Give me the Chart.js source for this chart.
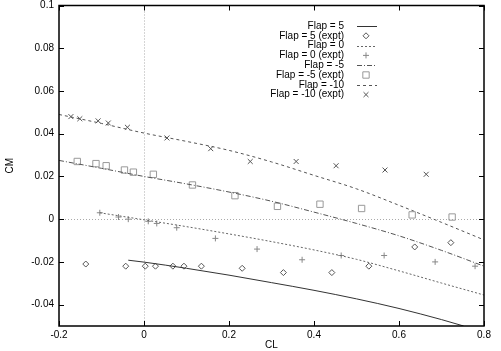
<!DOCTYPE html>
<html>
<head>
<meta charset="utf-8">
<script src="https://cdn.jsdelivr.net/npm/chart.js@4/dist/chart.umd.min.js"></script>
<style>
  html, body { margin: 0; padding: 0; background: #fff; }
  canvas { display: block; }
</style>
</head>
<body>
<canvas id="graficoCm" width="501" height="351"></canvas>
<script>
// tick labels
const xTicks = [-0.2, 0, 0.2, 0.4, 0.6, 0.8];
const yTicks = [-0.04, -0.02, 0, 0.02, 0.04, 0.06, 0.08, 0.1];

// theory curves
const curveCl = [-0.2, -0.1, 0, 0.1, 0.2, 0.3, 0.4, 0.5, 0.6, 0.7, 0.8];
const flapM10Theory = [0.049, 0.0448, 0.0403, 0.0364, 0.0322, 0.0268, 0.0205, 0.0142, 0.0065, -0.0015, -0.0097];
const flapM5Theory = [0.0275, 0.0238, 0.020, 0.0165, 0.0127, 0.0084, 0.0033, -0.002, -0.0078, -0.0146, -0.022];
const flap0TheoryCl = [-0.104, 0, 0.1, 0.2, 0.3, 0.4, 0.5, 0.6, 0.7, 0.8];
const flap0Theory = [0.003, -0.0003, -0.0035, -0.0069, -0.0105, -0.0144, -0.0188, -0.0242, -0.0299, -0.0355];
const flap5TheoryCl = [-0.037, 0, 0.1, 0.2, 0.3, 0.4, 0.5, 0.6, 0.7, 0.752];
const flap5Theory = [-0.0192, -0.0201, -0.023, -0.0262, -0.0297, -0.0333, -0.0373, -0.0418, -0.047, -0.050];

// experimental points
const flap5Cl = [-0.137, -0.043, 0.003, 0.027, 0.068, 0.094, 0.135, 0.231, 0.328, 0.442, 0.529, 0.637, 0.722];
const flap5Cm = [-0.021, -0.022, -0.022, -0.022, -0.022, -0.022, -0.022, -0.023, -0.025, -0.025, -0.022, -0.013, -0.011];
const flap0Cl = [-0.104, -0.060, -0.037, 0.010, 0.030, 0.077, 0.168, 0.266, 0.372, 0.464, 0.565, 0.685, 0.779];
const flap0Cm = [0.003, 0.001, 0.000, -0.001, -0.002, -0.004, -0.009, -0.014, -0.019, -0.017, -0.017, -0.020, -0.022];
const flapM5Cl = [-0.157, -0.113, -0.089, -0.046, -0.025, 0.022, 0.114, 0.214, 0.314, 0.414, 0.512, 0.631, 0.725];
const flapM5Cm = [0.027, 0.026, 0.025, 0.023, 0.022, 0.021, 0.016, 0.011, 0.006, 0.007, 0.005, 0.002, 0.001];
const flapM10Cl = [-0.172, -0.151, -0.108, -0.084, -0.039, 0.054, 0.157, 0.250, 0.358, 0.452, 0.567, 0.664];
const flapM10Cm = [0.048, 0.047, 0.046, 0.045, 0.043, 0.038, 0.033, 0.027, 0.027, 0.025, 0.023, 0.021];

const pares = (xs, ys) => xs.map((x, i) => ({ x: x, y: ys[i] }));

function linha(label, xs, ys, dash, cor) {
    return {
        label: label, type: 'line', data: pares(xs, ys),
        borderColor: cor, borderWidth: 1, borderDash: dash,
        pointRadius: 0, fill: false, cubicInterpolationMode: 'monotone'
    };
}

function pontos(label, xs, ys, estilo, raio, cor) {
    return {
        label: label, type: 'scatter', data: pares(xs, ys), showLine: false,
        pointStyle: estilo, pointRadius: raio, pointBorderColor: cor,
        pointBackgroundColor: 'rgba(0,0,0,0)', pointBorderWidth: 1
    };
}

const datasets = [
    linha('Flap = 5', flap5TheoryCl, flap5Theory, [], '#333'),
    pontos('Flap = 5 (expt)', flap5Cl, flap5Cm, 'rectRot', 3, '#555'),
    linha('Flap = 0', flap0TheoryCl, flap0Theory, [2, 2], '#666'),
    pontos('Flap = 0 (expt)', flap0Cl, flap0Cm, 'cross', 3, '#888'),
    linha('Flap = -5', curveCl, flapM5Theory, [5, 2, 1, 2], '#555'),
    pontos('Flap = -5 (expt)', flapM5Cl, flapM5Cm, 'rect', 4.5, '#999'),
    linha('Flap = -10', curveCl, flapM10Theory, [3, 3], '#555'),
    pontos('Flap = -10 (expt)', flapM10Cl, flapM10Cm, 'crossRot', 3.5, '#555')
];

// frame, inward ticks, zero lines
const moldura = {
    id: 'moldura',
    beforeDatasetsDraw(chart) {
        const { ctx, chartArea: a, scales: { x, y } } = chart;
        ctx.save();
        ctx.strokeStyle = '#aaa';
        ctx.lineWidth = 1;
        ctx.setLineDash([1, 2]);
        const x0 = Math.round(x.getPixelForValue(0)) + 0.5;
        const y0 = Math.round(y.getPixelForValue(0)) + 0.5;
        ctx.beginPath();
        ctx.moveTo(x0, a.top); ctx.lineTo(x0, a.bottom);
        ctx.moveTo(a.left, y0); ctx.lineTo(a.right, y0);
        ctx.stroke();
        ctx.restore();
    },
    afterDatasetsDraw(chart) {
        const { ctx, chartArea: a, scales: { x, y } } = chart;
        ctx.save();
        ctx.strokeStyle = '#000';
        ctx.lineWidth = 1;
        ctx.beginPath();
        xTicks.forEach(v => {
            const px = Math.round(x.getPixelForValue(v)) + 0.5;
            ctx.moveTo(px, a.bottom); ctx.lineTo(px, a.bottom - 5);
            ctx.moveTo(px, a.top); ctx.lineTo(px, a.top + 5);
        });
        yTicks.forEach(v => {
            const py = Math.round(y.getPixelForValue(v)) + 0.5;
            ctx.moveTo(a.left, py); ctx.lineTo(a.left + 5, py);
            ctx.moveTo(a.right, py); ctx.lineTo(a.right - 5, py);
        });
        ctx.stroke();
        ctx.lineWidth = 1.5;
        ctx.strokeRect(a.left, a.top, a.right - a.left, a.bottom - a.top);
        ctx.restore();
    }
};

// gnuplot-like legend: right-aligned text, sample to its right
const legenda = {
    id: 'legenda',
    afterDraw(chart) {
        const ctx = chart.ctx;
        ctx.save();
        ctx.font = '10px "Liberation Sans", Arial, sans-serif';
        ctx.textAlign = 'right';
        ctx.textBaseline = 'middle';
        chart.data.datasets.forEach((ds, i) => {
            const yy = 26 + i * 9.8;
            ctx.fillStyle = '#000';
            ctx.fillText(ds.label, 344, yy);
            if (ds.type === 'line') {
                ctx.strokeStyle = ds.borderColor;
                ctx.lineWidth = 1;
                ctx.setLineDash(ds.borderDash);
                ctx.beginPath();
                ctx.moveTo(357, Math.round(yy) + 0.5);
                ctx.lineTo(377, Math.round(yy) + 0.5);
                ctx.stroke();
                ctx.setLineDash([]);
            } else {
                ctx.strokeStyle = ds.pointBorderColor;
                ctx.fillStyle = 'rgba(0,0,0,0)';
                ctx.lineWidth = 1;
                Chart.helpers.drawPoint(ctx, {
                    pointStyle: ds.pointStyle, radius: ds.pointRadius, rotation: 0, borderWidth: 1
                }, 366, yy);
            }
        });
        ctx.restore();
    }
};

const fonte = { family: '"Liberation Sans", Arial, sans-serif', size: 10 };

new Chart(document.getElementById('graficoCm').getContext('2d'), {
    type: 'scatter',
    data: { datasets: datasets },
    options: {
        responsive: false,
        animation: false,
        layout: { padding: { top: 5, right: 17, left: 0, bottom: 0 } },
        plugins: { legend: { display: false }, tooltip: { enabled: false } },
        scales: {
            x: {
                type: 'linear', min: -0.2, max: 0.8,
                grid: { display: false, drawTicks: false },
                border: { display: false },
                afterBuildTicks: s => { s.ticks = xTicks.map(v => ({ value: v })); },
                afterFit: s => { s.height = 25; s.paddingLeft = 0; s.paddingRight = 0; },
                ticks: { font: fonte, color: '#000', padding: 3, maxRotation: 0, callback: v => String(v) },
                title: { display: true, text: 'CL', font: fonte, color: '#000', padding: { top: 0, bottom: 0 } }
            },
            y: {
                type: 'linear', min: -0.05, max: 0.1,
                grid: { display: false, drawTicks: false },
                border: { display: false },
                afterBuildTicks: s => { s.ticks = yTicks.map(v => ({ value: v })); },
                afterFit: s => { s.width = 59; s.paddingTop = 0; s.paddingBottom = 0; },
                ticks: { font: fonte, color: '#000', padding: 5, callback: v => String(v) },
                title: { display: true, text: 'CM', font: fonte, color: '#000', padding: { top: 4, bottom: 0 } }
            }
        }
    },
    plugins: [moldura, legenda]
});
</script>
</body>
</html>
